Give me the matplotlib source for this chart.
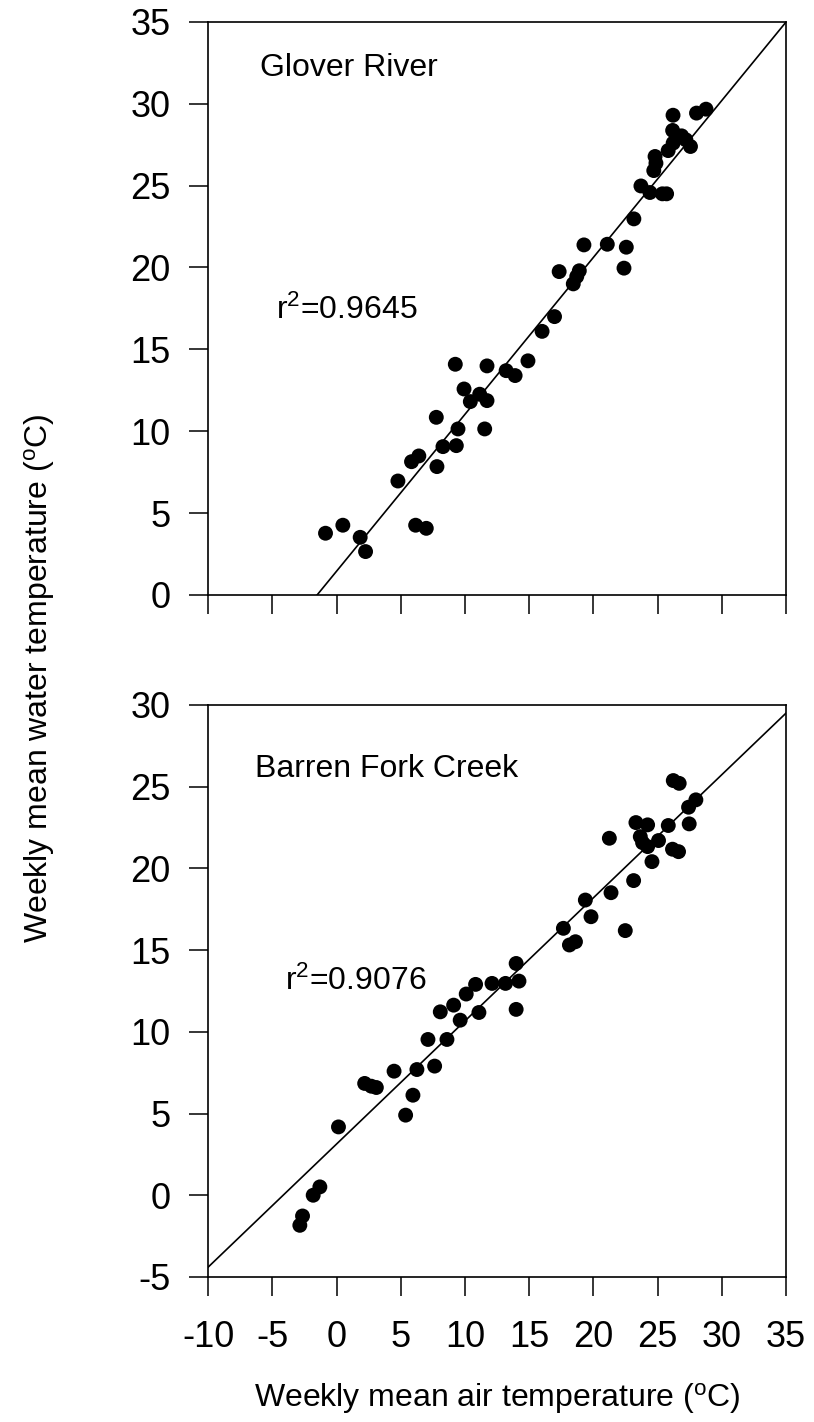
import matplotlib
matplotlib.use("Agg")
import matplotlib.pyplot as plt
import numpy as np

plt.rcParams['font.family'] = ['Liberation Sans', 'DejaVu Sans']
plt.rcParams['mathtext.fontset'] = 'custom'
plt.rcParams['mathtext.rm'] = 'Liberation Sans'
plt.rcParams['mathtext.it'] = 'Liberation Sans:italic'
plt.rcParams['axes.unicode_minus'] = False

# Glover River: weekly mean air / water temperature (deg C)
glover_air = [-0.87, 0.48, 1.83, 2.25, 4.77, 5.83, 6.4, 6.15, 6.98, 7.76,
              7.81, 8.28, 9.24, 9.45, 9.32, 9.92, 10.41, 11.14, 11.71, 11.71,
              11.53, 14.9, 16.97, 17.33, 18.9, 18.7, 18.43, 19.26, 21.08, 22.56,
              22.38, 23.15, 23.7, 24.4, 25.37, 25.7, 24.7, 24.87, 24.8, 25.82,
              26.21, 26.17, 26.87, 27.2, 27.56, 26.2, 28.03, 28.77, 13.2, 13.9,
              16.0]
glover_water = [3.77, 4.26, 3.52, 2.65, 6.96, 8.14, 8.49, 4.26, 4.07, 10.85,
                7.84, 9.06, 14.09, 10.14, 9.12, 12.58, 11.81, 12.26, 13.99, 11.87,
                10.14, 14.3, 17.0, 19.75, 19.8, 19.45, 19.0, 21.38, 21.42, 21.24,
                19.96, 22.97, 24.98, 24.58, 24.5, 24.5, 25.92, 26.37, 26.78, 27.14,
                27.6, 28.37, 28.04, 27.8, 27.39, 29.3, 29.43, 29.67, 13.7, 13.4,
                16.1]
glover_fit = (0.958, 1.46)
glover_r2 = "0.9645"

# Barren Fork Creek
barren_air = [-2.87, -2.66, -1.83, -1.31, 0.14, 2.18, 2.7, 3.09, 4.47, 5.37,
              5.94, 6.25, 7.63, 7.11, 8.59, 8.07, 9.11, 9.62, 10.09, 10.82,
              11.08, 12.1, 13.15, 13.98, 13.98, 14.2, 17.66, 18.13, 18.6, 19.37,
              19.81, 21.37, 22.48, 21.24, 23.13, 23.31, 24.22, 23.65, 23.83, 24.22,
              24.56, 25.07, 25.83, 26.22, 26.68, 26.16, 26.63, 27.46, 27.41, 27.98]
barren_water = [-1.84, -1.27, 0.0, 0.51, 4.18, 6.84, 6.67, 6.59, 7.59, 4.9,
                6.12, 7.69, 7.9, 9.53, 9.53, 11.22, 11.63, 10.71, 12.31, 12.9,
                11.18, 12.96, 12.96, 14.18, 11.37, 13.1, 16.33, 15.31, 15.51, 18.06,
                17.04, 18.51, 16.19, 21.84, 19.25, 22.8, 22.66, 21.94, 21.57, 21.33,
                20.41, 21.7, 22.62, 25.37, 25.2, 21.17, 21.02, 22.72, 23.74, 24.19]
barren_fit = (0.753, 3.14)
barren_r2 = "0.9076"

xticks = [-10, -5, 0, 5, 10, 15, 20, 25, 30, 35]

fig = plt.figure(figsize=(8.14, 14.22), dpi=100)
ax1 = fig.add_axes([0.2559, 0.5816, 0.7097, 0.403])
ax2 = fig.add_axes([0.2559, 0.102, 0.7097, 0.4023])


def panel(ax, air, water, fit, r2, name, ylim, name_pos, r2_pos, labels):
    ax.scatter(air, water, s=115, c='black', edgecolors='none', zorder=3)
    xs = np.array([-10, 35])
    ax.plot(xs, fit[0] * xs + fit[1], color='black', lw=1.2)
    ax.set_xlim(-10, 35)
    ax.set_ylim(*ylim)
    ax.set_xticks(xticks)
    ax.set_yticks(np.arange(ylim[0], ylim[1] + 1, 5))
    ax.tick_params(direction='out', length=14, width=1.1, labelsize=26)
    ax.tick_params(axis='x', pad=17, labelbottom=labels)
    ax.tick_params(axis='y', pad=13)
    for sp in ax.spines.values():
        sp.set_linewidth(1.2)
    ax.text(name_pos[0], name_pos[1], name, fontsize=23, va='center', ha='left')
    ax.text(r2_pos[0], r2_pos[1], r'r$^2$=' + r2, fontsize=23, va='center', ha='left')


panel(ax1, glover_air, glover_water, glover_fit, glover_r2, 'Glover River',
      (0, 35), (-6.0, 32.2), (-4.7, 17.4), False)
panel(ax2, barren_air, barren_water, barren_fit, barren_r2, 'Barren Fork Creek',
      (-5, 30), (-6.35, 26.1), (-4.05, 13.1), True)

fig.text(0.611, 0.0106, r'Weekly mean air temperature ($^{\mathrm{o}}$C)',
         fontsize=23, ha='center', va='baseline')
fig.text(0.049, 0.523, r'Weekly mean water temperature ($^{\mathrm{o}}$C)',
         fontsize=23, rotation=90, ha='center', va='center')

fig.savefig('out.png', dpi=100)
